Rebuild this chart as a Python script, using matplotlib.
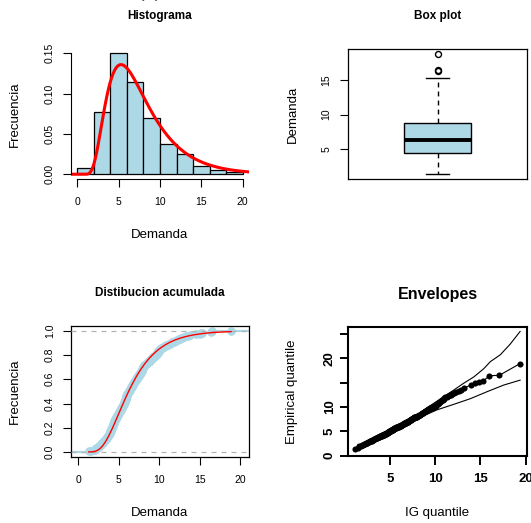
import math
import numpy as np
import matplotlib
matplotlib.use("Agg")
import matplotlib.pyplot as plt

plt.rcParams['font.family'] = ['Liberation Sans', 'DejaVu Sans']

# ---------------------------------------------------------------- data
# observed demand (sorted)
demanda = [
    1.3, 1.6, 1.9,
    2.05, 2.15, 2.25, 2.3, 2.4, 2.5, 2.6, 2.65, 2.75, 2.8, 2.9, 3.0, 3.05, 3.1,
    3.2, 3.25, 3.3, 3.4, 3.45, 3.5, 3.55, 3.6, 3.65, 3.7, 3.75, 3.8, 3.85, 3.9,
    3.92, 3.95, 3.98,
    4.02, 4.05, 4.08, 4.1, 4.13, 4.16, 4.19, 4.22, 4.25, 4.28, 4.31, 4.34, 4.37,
    4.4, 4.42, 4.45, 4.47, 4.52, 4.56, 4.6, 4.64, 4.68, 4.72, 4.76, 4.8, 4.84,
    4.88, 4.92, 4.96, 5.0, 5.04, 5.08, 5.12, 5.16, 5.2, 5.24, 5.28, 5.32, 5.36,
    5.4, 5.44, 5.48, 5.52, 5.56, 5.6, 5.63, 5.66, 5.69, 5.72, 5.75, 5.78, 5.81,
    5.84, 5.87, 5.9, 5.92, 5.94, 5.96, 5.98, 5.99,
    6.03, 6.08, 6.13, 6.18, 6.24, 6.28, 6.32, 6.36, 6.4, 6.44, 6.48, 6.52, 6.56,
    6.6, 6.64, 6.68, 6.72, 6.76, 6.8, 6.85, 6.9, 6.95, 7.0, 7.05, 7.1, 7.15,
    7.2, 7.25, 7.3, 7.35, 7.4, 7.45, 7.5, 7.55, 7.6, 7.65, 7.7, 7.75, 7.8, 7.84,
    7.87, 7.9, 7.93, 7.95, 7.97, 7.99,
    8.04, 8.1, 8.16, 8.24, 8.32, 8.4, 8.5, 8.6, 8.7, 8.78, 8.84, 8.92, 9.0,
    9.08, 9.16, 9.24, 9.32, 9.4, 9.48, 9.55, 9.62, 9.68, 9.74, 9.8, 9.85, 9.9,
    9.94, 9.98,
    10.05, 10.15, 10.25, 10.35, 10.5, 10.6, 10.75, 10.9, 11.05, 11.2, 11.35,
    11.5, 11.65, 11.8, 11.95,
    12.1, 12.25, 12.4, 12.55, 12.7, 12.85, 13.05, 13.3, 13.55, 13.8,
    14.6, 15.0, 15.2, 15.3,
    16.4, 16.5,
    18.9,
]

# theoretical IG quantiles paired with the sorted demand
ig_quantil = [
    1.1, 1.4, 1.6,
    1.75, 1.88, 2.0, 2.1, 2.2, 2.3, 2.39, 2.48, 2.56, 2.64, 2.72, 2.8, 2.87,
    2.94, 3.01, 3.08, 3.15, 3.21, 3.27, 3.33, 3.39, 3.45, 3.51, 3.57, 3.62,
    3.67, 3.72, 3.77, 3.82, 3.87, 3.92,
    3.96, 4.0, 4.03, 4.06, 4.1, 4.13, 4.17, 4.2, 4.24, 4.27, 4.31, 4.34, 4.38,
    4.41, 4.44, 4.48, 4.51, 4.55, 4.58, 4.62, 4.65, 4.69, 4.72, 4.75, 4.79,
    4.82, 4.86, 4.89, 4.93, 4.96, 5.0, 5.03, 5.06, 5.1, 5.13, 5.17, 5.2, 5.24,
    5.27, 5.31, 5.34, 5.37, 5.41, 5.44, 5.48, 5.51, 5.55, 5.58, 5.62, 5.65,
    5.68, 5.72, 5.75, 5.79, 5.82, 5.86, 5.89, 5.93, 5.96, 6.0,
    6.04, 6.08, 6.12, 6.17, 6.21, 6.25, 6.29, 6.34, 6.38, 6.42, 6.46, 6.5,
    6.55, 6.59, 6.63, 6.68, 6.72, 6.76, 6.8, 6.85, 6.89, 6.93, 6.97, 7.02,
    7.06, 7.1, 7.14, 7.19, 7.23, 7.27, 7.31, 7.36, 7.4, 7.44, 7.48, 7.53,
    7.57, 7.61, 7.65, 7.7, 7.74, 7.78, 7.82, 7.87, 7.91, 7.95,
    8.0, 8.07, 8.13, 8.2, 8.27, 8.33, 8.4, 8.47, 8.53, 8.6, 8.67, 8.73, 8.8,
    8.87, 8.93, 9.0, 9.07, 9.13, 9.2, 9.27, 9.33, 9.4, 9.47, 9.53, 9.6, 9.67,
    9.73, 9.8,
    9.87, 9.95, 10.03, 10.11, 10.19, 10.27, 10.36, 10.45, 10.54, 10.63, 10.72,
    10.82, 10.92, 11.02, 11.13,
    11.3, 11.45, 11.6, 11.75, 11.9, 12.05, 12.3, 12.6, 12.9, 13.2,
    14.0, 14.4, 14.8, 15.3,
    16.0, 17.1,
    19.4,
]

# simulated envelope bands for the QQ plot
env_sup_x = [1.1, 3.0, 5.0, 7.0, 8.5, 9.4, 10.6, 12.0, 13.1, 14.3, 15.4, 16.1, 17.2, 18.3, 19.4]
env_sup = [1.3, 3.2, 5.2, 7.2, 8.8, 10.2, 11.7, 13.4, 14.8, 16.2, 17.9, 19.3, 20.7, 22.9, 25.5]
env_inf_x = [1.1, 3.0, 5.0, 7.0, 8.5, 10.2, 12.0, 13.9, 15.7, 17.6, 19.4]
env_inf = [0.9, 2.8, 4.8, 6.7, 8.0, 9.4, 10.5, 11.7, 13.1, 14.5, 15.5]

# fitted inverse Gaussian parameters
dens_mu, dens_lam = 7.7, 30.0
cdf_mu, cdf_lam = 6.9, 31.0

bin_edges = [0, 2, 4, 6, 8, 10, 12, 14, 16, 18, 20]
hist_xticks = [0, 5, 10, 15, 20]
hist_yticks = [0.0, 0.05, 0.10, 0.15]
hist_ylabels = ["0.00", "0.05", "0.10", "0.15"]
box_yticks = [5, 10, 15]
cdf_yticks = [0.0, 0.2, 0.4, 0.6, 0.8, 1.0]
cdf_ylabels = ["0.0", "0.2", "0.4", "0.6", "0.8", "1.0"]
qq_xticks = [5, 10, 15, 20]
qq_yticks = [0, 5, 10, 15, 20, 25]
qq_ylabels = ["0", "5", "10", "", "20", ""]


# ---------------------------------------------------------------- helpers
def ig_pdf(x, mu, lam):
    x = np.asarray(x, float)
    out = np.zeros_like(x)
    m = x > 0
    xm = x[m]
    out[m] = np.sqrt(lam / (2 * np.pi * xm ** 3)) * np.exp(-lam * (xm - mu) ** 2 / (2 * mu ** 2 * xm))
    return out


def _phi(z):
    return 0.5 * (1.0 + np.vectorize(math.erf)(np.asarray(z) / math.sqrt(2.0)))


def ig_cdf(x, mu, lam):
    x = np.asarray(x, float)
    r = np.sqrt(lam / x)
    return _phi(r * (x / mu - 1)) + np.exp(2 * lam / mu) * _phi(-r * (x / mu + 1))


def fivenum(v):
    v = np.sort(np.asarray(v, float))
    n = len(v)
    n4 = math.floor((n + 3) / 2) / 2
    d = [1, n4, (n + 1) / 2, n + 1 - n4, n]
    return [0.5 * (v[math.floor(k) - 1] + v[math.ceil(k) - 1]) for k in d]


def r_range(lo, hi):
    pad = 0.04 * (hi - lo)
    return lo - pad, hi + pad


W, H = 531, 523
fig = plt.figure(figsize=(W / 100, H / 100), dpi=100)


def axes_box(l, t, r, b):
    return fig.add_axes([l / W, 1 - b / H, (r - l) / W, (b - t) / H])


def ftext(px, py, s, **kw):
    fig.text(px / W, 1 - py / H, s, ha='center', va='center', **kw)


LIGHTBLUE = '#ADD8E6'
TICK_KW = dict(direction='out', length=5.5, width=0.8, labelsize=7.5, colors='black')

sample = np.array(demanda)
srt = np.sort(sample)
n = len(srt)

# ---------------------------------------------------------------- histogram
ax1 = axes_box(70.7, 48.5, 249.3, 179.1)
counts, edges = np.histogram(sample, bins=bin_edges)
dens = counts / (n * np.diff(edges))
ax1.bar(edges[:-1], dens, width=np.diff(edges), align='edge',
        color=LIGHTBLUE, edgecolor='black', linewidth=0.9)
xg = np.linspace(-0.8, 20.8, 700)
ax1.plot(xg, ig_pdf(xg, dens_mu, dens_lam), color='red', lw=2.2)
ax1.set_xlim(-0.8, 20.8)
ax1.set_ylim(-0.006, 0.156)
for sp in ('top', 'right'):
    ax1.spines[sp].set_visible(False)
ax1.spines['left'].set_bounds(0, 0.15)
ax1.spines['bottom'].set_bounds(0, 20)
for sp in ('left', 'bottom'):
    ax1.spines[sp].set_linewidth(0.8)
ax1.set_xticks(hist_xticks)
ax1.set_yticks(hist_yticks)
ax1.set_yticklabels(hist_ylabels, rotation=90, va='center')
ax1.tick_params(axis='x', pad=7.5, **TICK_KW)
ax1.tick_params(axis='y', pad=6.0, **TICK_KW)
ftext(160, 16, "Histograma", fontsize=8.5, fontweight='bold')
ftext(160, 235, "Demanda", fontsize=9.5)
ftext(15.3, 114, "Frecuencia", fontsize=9.5, rotation=90)

# ---------------------------------------------------------------- box plot
ax2 = axes_box(348.3, 48.7, 526.7, 179.0)
lo, q1, med, q3, hi = fivenum(sample)
iqr = q3 - q1
inside = srt[(srt >= q1 - 1.5 * iqr) & (srt <= q3 + 1.5 * iqr)]
fliers = srt[(srt < q1 - 1.5 * iqr) | (srt > q3 + 1.5 * iqr)]
stats = [dict(med=med, q1=q1, q3=q3, whislo=inside.min(), whishi=inside.max(), fliers=fliers)]
ax2.bxp(stats, positions=[1], widths=0.4, patch_artist=True, capwidths=0.144,
        boxprops=dict(facecolor=LIGHTBLUE, edgecolor='black', linewidth=1.0),
        medianprops=dict(color='black', linewidth=2.8, solid_capstyle='butt'),
        whiskerprops=dict(color='black', linewidth=1.0, linestyle=(0, (3.5, 3))),
        capprops=dict(color='black', linewidth=1.0),
        flierprops=dict(marker='o', markerfacecolor='none', markeredgecolor='black',
                        markersize=4.3, markeredgewidth=1.0))
ax2.set_xlim(0.46, 1.54)
ax2.set_ylim(*r_range(srt.min(), srt.max()))
ax2.set_xticks([])
ax2.set_yticks(box_yticks)
ax2.set_yticklabels([str(v) for v in box_yticks], rotation=90, va='center')
ax2.tick_params(axis='y', pad=6.5, **TICK_KW)
for sp in ax2.spines.values():
    sp.set_linewidth(0.9)
ftext(437.5, 16, "Box plot", fontsize=8.5, fontweight='bold')
ftext(293.3, 114, "Demanda", fontsize=9.5, rotation=90)

# ---------------------------------------------------------------- cumulative distribution
ax3 = axes_box(70.7, 326.0, 249.3, 456.8)
x_lo, x_hi = -0.94, 21.15
F = np.arange(1, n + 1) / n
ax3.step(np.concatenate([[x_lo], srt, [x_hi]]), np.concatenate([[0.0], F, [1.0]]),
         where='post', color=LIGHTBLUE, lw=1.6, zorder=2)
ax3.plot(srt, F, 'o', color=LIGHTBLUE, ms=6.2, mec='none', zorder=2)
for yv in (0.0, 1.0):
    ax3.axhline(yv, color='#B3B3B3', lw=0.9, ls=(0, (4, 4)), zorder=3)
xr = np.linspace(srt[0], srt[-1], 400)
ax3.plot(xr, ig_cdf(xr, cdf_mu, cdf_lam), color='red', lw=1.0, zorder=4)
ax3.set_xlim(x_lo, x_hi)
ax3.set_ylim(-0.04, 1.04)
ax3.set_xticks(hist_xticks)
ax3.set_yticks(cdf_yticks)
ax3.set_yticklabels(cdf_ylabels, rotation=90, va='center')
ax3.tick_params(axis='x', pad=7.5, **TICK_KW)
ax3.tick_params(axis='y', pad=6.0, **TICK_KW)
for sp in ax3.spines.values():
    sp.set_linewidth(0.9)
ftext(160, 293.3, "Distibucion acumulada", fontsize=8.5, fontweight='bold')
ftext(160, 513.3, "Demanda", fontsize=9.5)
ftext(15.3, 391.4, "Frecuencia", fontsize=9.5, rotation=90)

# ---------------------------------------------------------------- envelopes
ax4 = axes_box(348.3, 326.7, 526.7, 456.0)
tq = np.array(ig_quantil)
ax4.plot(env_sup_x, env_sup, color='black', lw=0.8)
ax4.plot(env_inf_x, env_inf, color='black', lw=0.8)
ax4.plot(tq, srt, '-', color='black', lw=0.8)
ax4.plot(tq, srt, 'o', color='black', ms=4.4, mec='none')
ax4.set_xlim(*r_range(tq.min(), tq.max()))
ylo = min(min(env_inf), srt.min())
yhi = max(max(env_sup), srt.max())
ax4.set_ylim(*r_range(ylo, yhi))
ax4.set_xticks(qq_xticks)
ax4.set_yticks(qq_yticks)
ax4.set_yticklabels(qq_ylabels, rotation=90, va='center')
ax4.set_xticklabels([str(v) for v in qq_xticks])
for lab in ax4.get_xticklabels() + ax4.get_yticklabels():
    lab.set_fontweight('bold')
ax4.tick_params(axis='x', direction='out', length=6.5, width=1.4, labelsize=9.5, pad=6.0)
ax4.tick_params(axis='y', direction='out', length=6.0, width=1.4, labelsize=9.5, pad=3.0)
for sp in ax4.spines.values():
    sp.set_linewidth(1.5)
ftext(437.5, 295, "Envelopes", fontsize=11.5, fontweight='bold')
ftext(437.5, 513.3, "IG quantile", fontsize=9.5)
ftext(292.3, 391.4, "Empirical quantile", fontsize=9.5, rotation=90)

# caption above the panels (lies almost entirely above the canvas)
fig.text(150 / W, 1 + 3 / H, "(a)", fontsize=14, ha='center', va='baseline', color='#555555')
fig.text(272 / W, 1 + 1.5 / H, "Demanda diaria", fontsize=14, ha='center', va='baseline', color='#555555')

fig.savefig("out.png", dpi=100)
